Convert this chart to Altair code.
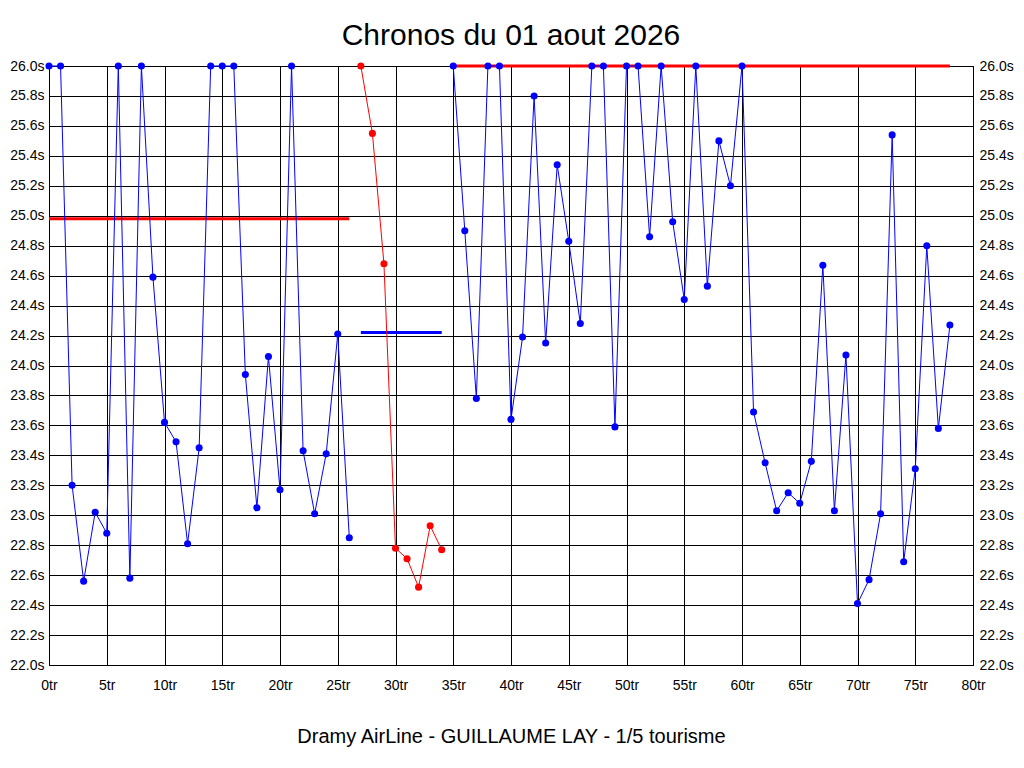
import altair as alt
import pandas as pd

# ---- data ----
laps_a = list(range(0, 27))
times_a = [26.0, 26.0, 23.20, 22.56, 23.02, 22.88, 26.0, 22.58, 26.0, 24.59,
           23.62, 23.49, 22.81, 23.45, 26.0, 26.0, 26.0, 23.94, 23.05, 24.06,
           23.17, 26.0, 23.43, 23.01, 23.41, 24.21, 22.85]

laps_red = list(range(27, 35))
times_red = [26.0, 25.55, 24.68, 22.78, 22.71, 22.52, 22.93, 22.77]

laps_b = list(range(35, 79))
times_b = [26.0, 24.90, 23.78, 26.0, 26.0, 23.64, 24.19, 25.80, 24.15, 25.34,
           24.83, 24.28, 26.0, 26.0, 23.59, 26.0, 26.0, 24.86, 26.0, 24.96,
           24.44, 26.0, 24.53, 25.50, 25.20, 26.0, 23.69, 23.35, 23.03, 23.15,
           23.08, 23.36, 24.67, 23.03, 24.07, 22.41, 22.57, 23.01, 25.54, 22.69,
           23.31, 24.80, 23.58, 24.27]

ref_start = [0, 27, 35]
ref_end = [26, 34, 78]
ref_value = [24.98, 24.22, 26.0]
ref_color = ["#ff0000", "#0000ff", "#ff0000"]

x_ticks = list(range(0, 81, 5))
y_ticks = [round(22 + 0.2 * i, 1) for i in range(21)]

title_text = "Chronos du 01 aout 2026"
footer_text = "Dramy AirLine - GUILLAUME LAY - 1/5 tourisme"

# ---- tables ----
rows = []
for seg, laps, times, col in [("a", laps_a, times_a, "#0000ff"),
                              ("r", laps_red, times_red, "#ff0000"),
                              ("b", laps_b, times_b, "#0000ff")]:
    for l, t in zip(laps, times):
        rows.append({"lap": l, "t": t, "seg": seg, "color": col})
df = pd.DataFrame(rows)
ref = pd.DataFrame({"x": ref_start, "x2": ref_end, "y": ref_value, "color": ref_color})

FONT = "Liberation Sans"
xscale = alt.Scale(domain=[0, 80], nice=False, zero=False)
yscale = alt.Scale(domain=[22, 26], nice=False, zero=False)

xaxis = alt.Axis(values=x_ticks, labelExpr="datum.value + 'tr'", title=footer_text,
                 titleFont=FONT, titleFontSize=20, titleFontWeight="normal",
                 titleColor="black", titlePadding=34, labelPadding=13,
                 grid=True, ticks=False, labelFlush=False)
yaxis_left = alt.Axis(values=y_ticks, labelExpr="format(datum.value, '.1f') + 's'",
                      title=None, grid=True, ticks=False, labelPadding=5,
                      orient="left", labelFlush=False)
yaxis_right = alt.Axis(values=y_ticks, labelExpr="format(datum.value, '.1f') + 's'",
                       title=None, grid=False, ticks=False, labelPadding=6,
                       orient="right", labelFlush=False)

X = alt.X("lap:Q", scale=xscale, axis=xaxis)
Y = alt.Y("t:Q", scale=yscale, axis=yaxis_left)

rules = alt.Chart(ref).mark_rule(strokeWidth=3).encode(
    x=alt.X("x:Q", scale=xscale, axis=xaxis),
    x2="x2:Q",
    y=alt.Y("y:Q", scale=yscale, axis=yaxis_left),
    color=alt.Color("color:N", scale=None),
)

lines = alt.Chart(df).mark_line(strokeWidth=1).encode(
    x=X, y=Y, detail="seg:N", color=alt.Color("color:N", scale=None),
    order="lap:Q",
)

points = alt.Chart(df).mark_circle(size=50, opacity=1).encode(
    x=X, y=Y, color=alt.Color("color:N", scale=None),
)

right = alt.Chart(df).mark_point(opacity=0).encode(
    x=X, y=alt.Y("t:Q", scale=yscale, axis=yaxis_right),
)

chart = alt.layer(
    alt.layer(rules, lines, points),
    right,
).resolve_scale(y="independent").properties(
    width=924,
    height=599,
    title=alt.TitleParams(title_text, font=FONT, fontSize=30, fontWeight="normal",
                          color="black", anchor="middle", baseline="alphabetic",
                          offset=14, dy=30),
    padding={"left": 41, "top": 58, "right": 43, "bottom": 88},
    autosize=alt.AutoSizeParams(type="none"),
    background="white",
).configure_axis(
    gridColor="black", gridOpacity=1, gridWidth=1,
    domainColor="black", domainWidth=1,
    labelFont=FONT, labelFontSize=14, labelColor="black",
).configure_view(stroke="black", strokeWidth=1)

chart.save("out.html", embed_options={"renderer": "svg", "actions": False})
